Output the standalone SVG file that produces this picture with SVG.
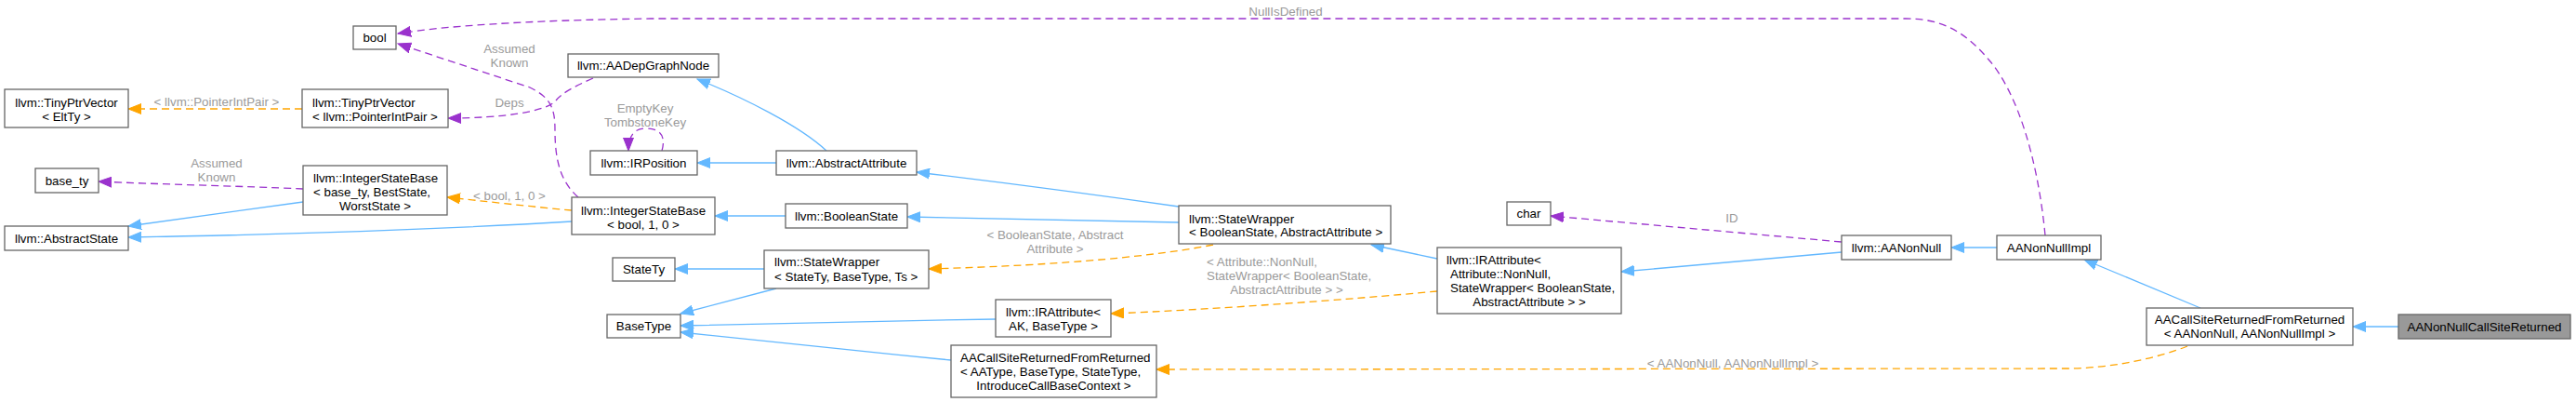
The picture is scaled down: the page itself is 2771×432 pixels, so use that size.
<svg xmlns="http://www.w3.org/2000/svg" width="2771" height="432" viewBox="0 0 2771 432">
<style>
text{font-family:"Liberation Sans",Arial,Helvetica,sans-serif;font-size:13.33px;fill:#000}
.n rect{fill:#fff;stroke:#666;stroke-width:1.3}
.n.hl rect{fill:#999}
.m{text-anchor:middle}
.lb{fill:#9a9a9a}
.e path{fill:none;stroke-width:1.3}
.b{stroke:#63b8ff;marker-end:url(#ab)}
.o{stroke:#ffa500;stroke-dasharray:8,5;marker-end:url(#ao)}
.p{stroke:#9a32cd;stroke-dasharray:8,5;marker-end:url(#ap)}
</style>
<defs>
<marker id="ab" markerUnits="userSpaceOnUse" markerWidth="16" markerHeight="12" refX="14" refY="6" orient="auto"><path d="M0,0.5 L14,6 L0,11.5 z" fill="#63b8ff" stroke="#63b8ff"/></marker>
<marker id="ao" markerUnits="userSpaceOnUse" markerWidth="16" markerHeight="12" refX="14" refY="6" orient="auto"><path d="M0,0.5 L14,6 L0,11.5 z" fill="#ffa500" stroke="#ffa500"/></marker>
<marker id="ap" markerUnits="userSpaceOnUse" markerWidth="16" markerHeight="12" refX="14" refY="6" orient="auto"><path d="M0,0.5 L14,6 L0,11.5 z" fill="#9a32cd" stroke="#9a32cd"/></marker>
</defs>
<g id="edges" class="e">
<path class="o" d="M325,117 L138,117"/>
<path class="p" d="M638,84 C618,93 604,100 598,108 C588,120 540,127 482,127"/>
<path class="p" d="M622,212 C604,196 597,175 597,140 C597,115 592,105 570,94 L428,47"/>
<path class="p" d="M326,203 C260,200 170,198 106,195"/>
<path class="o" d="M615,226 C570,222 520,216 481,212"/>
<path class="b" d="M326,217 L138,243"/>
<path class="b" d="M615,238 C450,248 250,253 138,255"/>
<path class="p" d="M712,162 C716,148 712,138 695,138 C682,138 676,146 676,162"/>
<path class="b" d="M889,162 C860,135 800,105 750,85"/>
<path class="b" d="M835,175 L750,175"/>
<path class="b" d="M1268,222 C1170,208 1070,195 986,185"/>
<path class="b" d="M845,232 L769,232"/>
<path class="b" d="M1268,239 L976,233"/>
<path class="o" d="M1305,263 C1250,274 1150,285 999,289"/>
<path class="b" d="M822,289 L726,289"/>
<path class="b" d="M835,310 L732,337"/>
<path class="b" d="M1071,343 C950,345 820,348 732,350"/>
<path class="b" d="M1023,387 C920,377 810,365 732,357"/>
<path class="b" d="M1546,278 L1475,263"/>
<path class="o" d="M1546,313 C1450,322 1300,333 1195,337"/>
<path class="p" d="M1981,260 L1668,232"/>
<path class="b" d="M1981,271 L1744,292"/>
<path class="b" d="M2148,266 L2099,266"/>
<path class="p" d="M2200,253 C2192,170 2170,100 2140,65 C2115,35 2090,20 2050,20 L700,20 C560,22 480,28 428,36"/>
<path class="b" d="M2367,331 L2242,279"/>
<path class="b" d="M2580,351 L2531,351"/>
<path class="o" d="M2353,372 C2320,385 2270,396 2222,396 L1244,397"/>
<text class="lb m" x="233" y="114">&lt; llvm::PointerIntPair &gt;</text>
<text class="lb m" x="548" y="114.5">Deps</text>
<text class="lb m" x="548" y="56.5">Assumed</text>
<text class="lb m" x="548" y="71.5">Known</text>
<text class="lb m" x="233" y="179.5">Assumed</text>
<text class="lb m" x="233" y="195">Known</text>
<text class="lb m" x="548" y="214.5">&lt; bool, 1, 0 &gt;</text>
<text class="lb m" x="694" y="120.5">EmptyKey</text>
<text class="lb m" x="694" y="135.5">TombstoneKey</text>
<text class="lb m" x="1135" y="256.5">&lt; BooleanState, Abstract</text>
<text class="lb m" x="1135" y="271.5">Attribute &gt;</text>
<text class="lb" x="1298" y="285.5">&lt; Attribute::NonNull,</text>
<text class="lb" x="1298" y="300.5">StateWrapper&lt; BooleanState,</text>
<text class="lb m" x="1384" y="315.5">AbstractAttribute &gt; &gt;</text>
<text class="lb m" x="1863" y="238.5">ID</text>
<text class="lb m" x="1383" y="17">NullIsDefined</text>
<text class="lb m" x="1864" y="394.5">&lt; AANonNull, AANonNullImpl &gt;</text>
</g>
<g id="bool" class="n"><rect x="380" y="28" width="46" height="25"/><text class="m" x="403" y="45">bool</text></g>
<g id="tinyptrvector_eltty" class="n"><rect x="5" y="96" width="133" height="41"/><text class="m" x="71.5" y="114.5">llvm::TinyPtrVector</text><text class="m" x="71.5" y="129.5">&lt; EltTy &gt;</text></g>
<g id="tinyptrvector_pip" class="n"><rect x="325" y="96" width="157" height="41"/><text x="336" y="114.5">llvm::TinyPtrVector</text><text x="336" y="129.5">&lt; llvm::PointerIntPair &gt;</text></g>
<g id="base_ty" class="n"><rect x="38" y="181" width="68" height="26"/><text class="m" x="72" y="198.5">base_ty</text></g>
<g id="integerstatebase_generic" class="n"><rect x="326" y="178" width="155" height="53"/><text x="337" y="195.5">llvm::IntegerStateBase</text><text x="337" y="210.5">&lt; base_ty, BestState,</text><text class="m" x="403.5" y="225.5">WorstState &gt;</text></g>
<g id="abstractstate" class="n"><rect x="5" y="243" width="133" height="26"/><text class="m" x="71.5" y="260.5">llvm::AbstractState</text></g>
<g id="aadepgraphnode" class="n"><rect x="611" y="58" width="162" height="25"/><text class="m" x="692" y="75">llvm::AADepGraphNode</text></g>
<g id="irposition" class="n"><rect x="635" y="162" width="115" height="26"/><text class="m" x="692.5" y="179.5">llvm::IRPosition</text></g>
<g id="abstractattribute" class="n"><rect x="835" y="162" width="151" height="26"/><text class="m" x="910.5" y="179.5">llvm::AbstractAttribute</text></g>
<g id="integerstatebase_bool" class="n"><rect x="615" y="212" width="154" height="40"/><text class="m" x="692" y="230.5">llvm::IntegerStateBase</text><text class="m" x="692" y="245.5">&lt; bool, 1, 0 &gt;</text></g>
<g id="booleanstate" class="n"><rect x="845" y="219" width="131" height="26"/><text class="m" x="910.5" y="236.5">llvm::BooleanState</text></g>
<g id="statety" class="n"><rect x="659" y="277" width="67" height="25"/><text class="m" x="692.5" y="294">StateTy</text></g>
<g id="statewrapper_generic" class="n"><rect x="822" y="269" width="177" height="41"/><text x="833" y="286">llvm::StateWrapper</text><text x="833" y="301.5">&lt; StateTy, BaseType, Ts &gt;</text></g>
<g id="basetype" class="n"><rect x="653" y="338" width="79" height="25"/><text class="m" x="692.5" y="355">BaseType</text></g>
<g id="irattribute_generic" class="n"><rect x="1071" y="322" width="124" height="40"/><text class="m" x="1133" y="339.5">llvm::IRAttribute&lt;</text><text class="m" x="1133" y="354.5">AK, BaseType &gt;</text></g>
<g id="aacsrfr_generic" class="n"><rect x="1023" y="371" width="221" height="56"/><text x="1033" y="388.5">AACallSiteReturnedFromReturned</text><text x="1033" y="403.5">&lt; AAType, BaseType, StateType,</text><text class="m" x="1133.5" y="418.5">IntroduceCallBaseContext &gt;</text></g>
<g id="statewrapper_bool" class="n"><rect x="1268" y="221" width="228" height="41"/><text x="1279" y="239.5">llvm::StateWrapper</text><text x="1279" y="254">&lt; BooleanState, AbstractAttribute &gt;</text></g>
<g id="char" class="n"><rect x="1621" y="217" width="47" height="25"/><text class="m" x="1644.5" y="234">char</text></g>
<g id="irattribute_nonnull" class="n"><rect x="1546" y="266" width="198" height="71"/><text x="1556" y="283.5">llvm::IRAttribute&lt;</text><text x="1560" y="298.5">Attribute::NonNull,</text><text x="1560" y="313.5">StateWrapper&lt; BooleanState,</text><text class="m" x="1645" y="328.5">AbstractAttribute &gt; &gt;</text></g>
<g id="aanonnull" class="n"><rect x="1981" y="253" width="118" height="26"/><text class="m" x="2040" y="270.5">llvm::AANonNull</text></g>
<g id="aanonnullimpl" class="n"><rect x="2148" y="253" width="112" height="26"/><text class="m" x="2204" y="270.5">AANonNullImpl</text></g>
<g id="aacsrfr_nonnull" class="n"><rect x="2309" y="331" width="222" height="40"/><text class="m" x="2420" y="347.5">AACallSiteReturnedFromReturned</text><text class="m" x="2420" y="363">&lt; AANonNull, AANonNullImpl &gt;</text></g>
<g id="aanonnullcallsitereturned" class="n hl"><rect x="2580" y="338" width="185" height="26"/><text class="m" x="2672.5" y="355.5">AANonNullCallSiteReturned</text></g>
</svg>
